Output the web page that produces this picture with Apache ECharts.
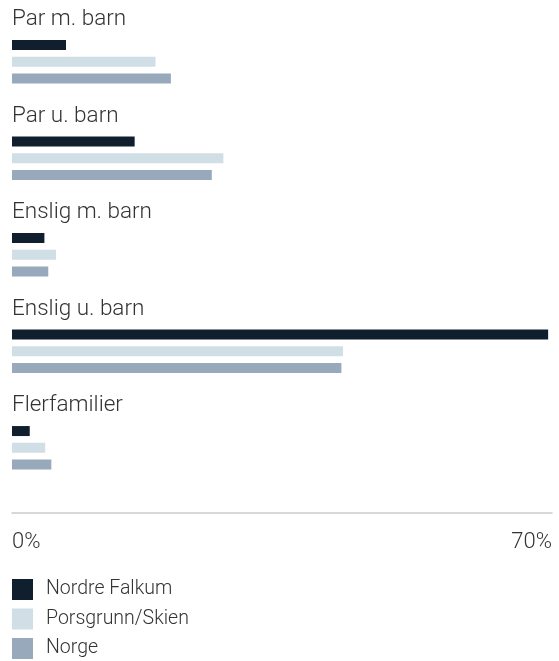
<!DOCTYPE html>
<html>
<head>
<meta charset="utf-8">
<script src="https://cdn.jsdelivr.net/npm/echarts@6/dist/echarts.min.js"></script>
<style>
  html, body { margin: 0; padding: 0; background: #fff; }
  #chart { width: 559px; height: 661px; }
</style>
</head>
<body>
<div id="chart"></div>
<script>
var categories = ['Par m. barn', 'Par u. barn', 'Enslig m. barn', 'Enslig u. barn', 'Flerfamilier'];
var seriesNames = ['Nordre Falkum', 'Porsgrunn/Skien', 'Norge'];
var nordreFalkum = [7.0, 15.9, 4.2, 69.5, 2.3];
var porsgrunnSkien = [18.6, 27.4, 5.7, 42.9, 4.3];
var norge = [20.6, 25.9, 4.7, 42.7, 5.1];
var axisMin = 0;
var axisMax = 70;

var fontFam = 'Roboto, "Liberation Sans", sans-serif';
var colors = ['#0f1f2e', '#d0dee6', '#98a9bb'];

var myChart = echarts.init(document.getElementById('chart'));

function barSeries(name, data) {
	return {
		name: name,
		type: 'bar',
		data: data,
		barWidth: 10,
		barGap: '67%',
		silent: true
	};
}

var option = {
	animation: false,
	color: colors,
	textStyle: { fontFamily: fontFam },
	grid: {
		left: 12,
		right: 7,
		top: 13.5,
		height: 482.5
	},
	legend: {
		orient: 'vertical',
		left: 12,
		top: 579,
		padding: 0,
		itemWidth: 21,
		itemHeight: 21,
		itemGap: 8.5,
		icon: 'rect',
		selectedMode: false,
		data: seriesNames,
		textStyle: {
			fontFamily: fontFam,
			fontWeight: 300,
			fontSize: 19.5,
			color: '#333',
			padding: [0, 0, 0, 8]
		}
	},
	xAxis: {
		type: 'value',
		min: axisMin,
		max: axisMax,
		interval: 70,
		offset: 17,
		axisLine: { show: true, lineStyle: { color: '#cccccc', width: 1.5 } },
		axisTick: { show: false },
		splitLine: { show: false },
		axisLabel: {
			margin: 18,
			fontFamily: fontFam,
			fontWeight: 300,
			fontSize: 22,
			color: '#333',
			alignMinLabel: 'left',
			alignMaxLabel: 'right',
			formatter: function (v) { return v + '%'; }
		}
	},
	yAxis: {
		type: 'category',
		data: categories,
		inverse: true,
		axisLine: { show: false },
		axisTick: { show: false },
		axisLabel: {
			inside: true,
			margin: 0,
			align: 'left',
			verticalAlign: 'bottom',
			lineHeight: 22,
			padding: [0, 0, 31, 0],
			fontFamily: fontFam,
			fontWeight: 300,
			fontSize: 22.5,
			color: '#333'
		}
	},
	series: [
		barSeries(seriesNames[0], nordreFalkum),
		barSeries(seriesNames[1], porsgrunnSkien),
		barSeries(seriesNames[2], norge)
	]
};

myChart.setOption(option);
</script>
</body>
</html>
